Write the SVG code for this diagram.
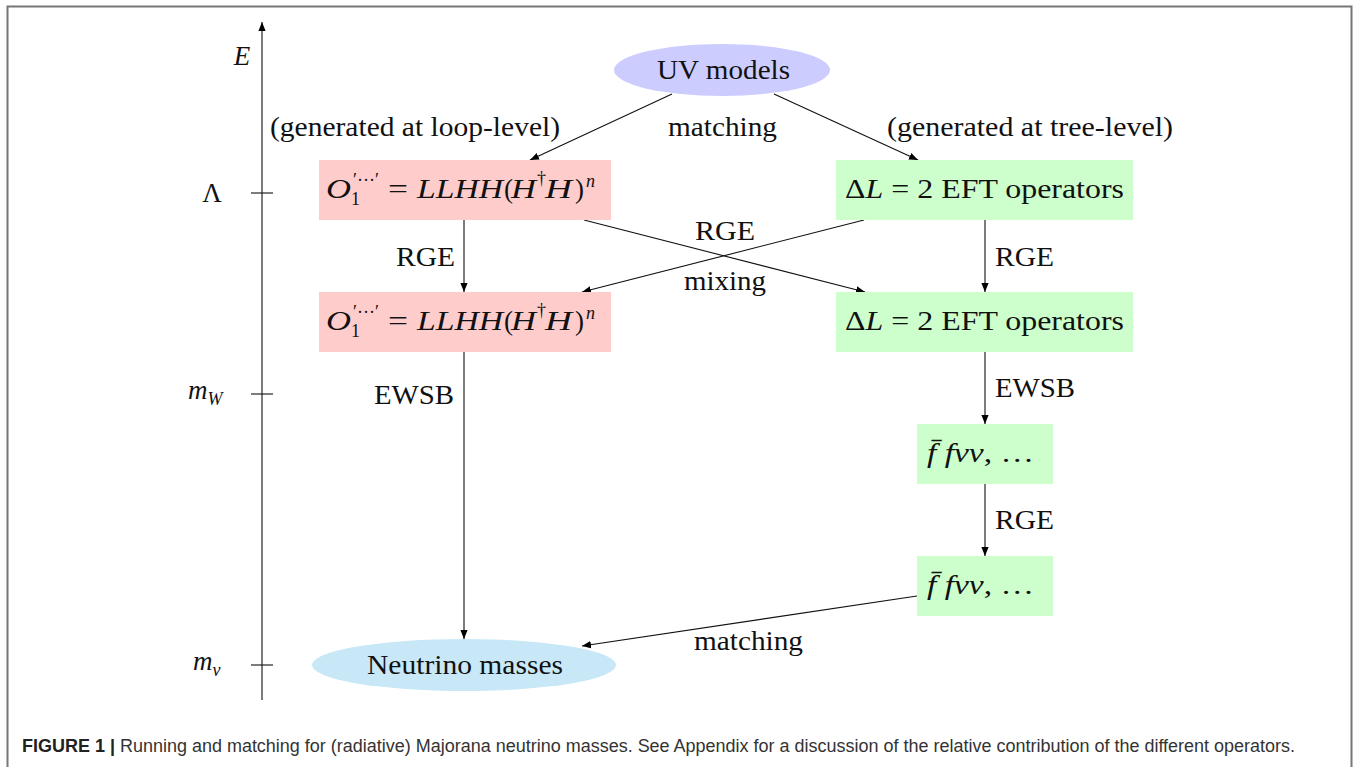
<svg xmlns="http://www.w3.org/2000/svg" width="1359" height="767" viewBox="0 0 1359 767">
<defs>
<marker id="ah" viewBox="0 0 10 10" refX="10" refY="5" markerWidth="9" markerHeight="9" markerUnits="userSpaceOnUse" orient="auto">
<path d="M0,1 L10,5 L0,9 z" fill="#000"/>
</marker>
<style>
.t{font-family:"Liberation Serif","DejaVu Serif",serif;font-size:27px;fill:#111}
.i{font-style:italic}
.s{font-size:18px}
.c{stroke:#111;stroke-width:1.1;fill:none}
.a{stroke:#111;stroke-width:1.1;fill:none;marker-end:url(#ah)}
.cap{font-family:"Liberation Sans",Arial,sans-serif;font-size:17.5px;fill:#333}
</style>
</defs>
<rect x="0" y="0" width="1359" height="767" fill="#fff"/>
<path d="M7.5,767 V6.5 H1351.5 V767" fill="none" stroke="#777" stroke-width="2"/>

<g id="axis">
<line class="a" x1="262" y1="700" x2="262" y2="22"/>
<line class="c" x1="251" y1="193" x2="273" y2="193"/>
<line class="c" x1="251" y1="394" x2="273" y2="394"/>
<line class="c" x1="251" y1="665" x2="273" y2="665"/>
<text class="t i" x="242" y="65" text-anchor="middle">E</text>
<text class="t" x="212" y="202" text-anchor="middle">Λ</text>
<text class="t" x="188" y="399"><tspan class="i">m</tspan><tspan class="s i" dy="6">W</tspan></text>
<text class="t" x="193" y="670"><tspan class="i">m</tspan><tspan class="s i" dy="6">ν</tspan></text>
</g>

<g id="connectors">
<line class="a" x1="672" y1="94" x2="530" y2="160"/>
<line class="a" x1="774" y1="94" x2="918" y2="160"/>
<line class="a" x1="464" y1="220" x2="464" y2="292"/>
<line class="a" x1="985" y1="220" x2="985" y2="292"/>
<line class="a" x1="584" y1="220" x2="865" y2="292"/>
<line class="a" x1="864" y1="220" x2="582" y2="292"/>
<line class="a" x1="464" y1="352" x2="464" y2="639"/>
<line class="a" x1="985" y1="352" x2="985" y2="424"/>
<line class="a" x1="985" y1="484" x2="985" y2="556"/>
<line class="a" x1="917" y1="596" x2="582" y2="646"/>
<text class="t" x="270" y="136" textLength="290" lengthAdjust="spacingAndGlyphs">(generated at loop-level)</text>
<text class="t" x="668" y="136" textLength="109" lengthAdjust="spacingAndGlyphs">matching</text>
<text class="t" x="887" y="136" textLength="286" lengthAdjust="spacingAndGlyphs">(generated at tree-level)</text>
<text class="t" x="396" y="266" textLength="59" lengthAdjust="spacingAndGlyphs">RGE</text>
<text class="t" x="695" y="240" textLength="60" lengthAdjust="spacingAndGlyphs">RGE</text>
<text class="t" x="684" y="290" textLength="82" lengthAdjust="spacingAndGlyphs">mixing</text>
<text class="t" x="995" y="266" textLength="59" lengthAdjust="spacingAndGlyphs">RGE</text>
<text class="t" x="374" y="404" textLength="80" lengthAdjust="spacingAndGlyphs">EWSB</text>
<text class="t" x="995" y="397" textLength="80" lengthAdjust="spacingAndGlyphs">EWSB</text>
<text class="t" x="995" y="529" textLength="59" lengthAdjust="spacingAndGlyphs">RGE</text>
<text class="t" x="694" y="650" textLength="109" lengthAdjust="spacingAndGlyphs">matching</text>
</g>

<g id="uv">
<ellipse cx="722" cy="70" rx="108" ry="26" fill="#ccccff"/>
<text class="t" x="657" y="79" textLength="133" lengthAdjust="spacingAndGlyphs">UV models</text>
</g>

<g id="op1-lambda">
<rect x="319" y="160" width="292" height="60" fill="#ffcccc"/>
<text class="t" y="198"><tspan class="i" x="326" textLength="25" lengthAdjust="spacingAndGlyphs">O</tspan><tspan class="s" x="353" y="186">′···′</tspan><tspan class="s" x="351" y="205">1</tspan><tspan x="388" y="198" textLength="20" lengthAdjust="spacingAndGlyphs">=</tspan><tspan class="i" x="417" textLength="86" lengthAdjust="spacingAndGlyphs">LLHH</tspan><tspan x="504">(</tspan><tspan class="i" x="511" textLength="25" lengthAdjust="spacingAndGlyphs">H</tspan><tspan class="s" x="537" y="184">†</tspan><tspan class="i" x="545" y="198" textLength="27" lengthAdjust="spacingAndGlyphs">H</tspan><tspan x="575">)</tspan><tspan class="s i" x="586" y="187">n</tspan></text>
</g>

<g id="eft-lambda">
<rect x="836" y="160" width="297" height="60" fill="#ccffcc"/>
<text class="t" x="845" y="198" textLength="279" lengthAdjust="spacingAndGlyphs">Δ<tspan class="i">L</tspan> = 2 EFT operators</text>
</g>

<g id="op1-run">
<rect x="319" y="292" width="292" height="60" fill="#ffcccc"/>
<text class="t" y="330"><tspan class="i" x="326" textLength="25" lengthAdjust="spacingAndGlyphs">O</tspan><tspan class="s" x="353" y="318">′···′</tspan><tspan class="s" x="351" y="337">1</tspan><tspan x="388" y="330" textLength="20" lengthAdjust="spacingAndGlyphs">=</tspan><tspan class="i" x="417" textLength="86" lengthAdjust="spacingAndGlyphs">LLHH</tspan><tspan x="504">(</tspan><tspan class="i" x="511" textLength="25" lengthAdjust="spacingAndGlyphs">H</tspan><tspan class="s" x="537" y="316">†</tspan><tspan class="i" x="545" y="330" textLength="27" lengthAdjust="spacingAndGlyphs">H</tspan><tspan x="575">)</tspan><tspan class="s i" x="586" y="319">n</tspan></text>
</g>

<g id="eft-run">
<rect x="836" y="292" width="297" height="60" fill="#ccffcc"/>
<text class="t" x="845" y="330" textLength="279" lengthAdjust="spacingAndGlyphs">Δ<tspan class="i">L</tspan> = 2 EFT operators</text>
</g>

<g id="ffnunu-1">
<rect x="917" y="424" width="136" height="60" fill="#ccffcc"/>
<text class="t" x="927" y="462" textLength="107" lengthAdjust="spacingAndGlyphs"><tspan class="i">f̄ fνν</tspan>, …</text>
</g>

<g id="ffnunu-2">
<rect x="917" y="556" width="136" height="60" fill="#ccffcc"/>
<text class="t" x="927" y="594" textLength="107" lengthAdjust="spacingAndGlyphs"><tspan class="i">f̄ fνν</tspan>, …</text>
</g>

<g id="neutrino">
<ellipse cx="464" cy="665" rx="152" ry="26" fill="#c8e8f8"/>
<text class="t" x="367" y="674" textLength="196" lengthAdjust="spacingAndGlyphs">Neutrino masses</text>
</g>

<g id="caption">
<text class="cap" x="22" y="752" textLength="1273" lengthAdjust="spacingAndGlyphs"><tspan font-weight="bold" fill="#222">FIGURE 1 |</tspan> Running and matching for (radiative) Majorana neutrino masses. See Appendix for a discussion of the relative contribution of the different operators.</text>
</g>
</svg>
